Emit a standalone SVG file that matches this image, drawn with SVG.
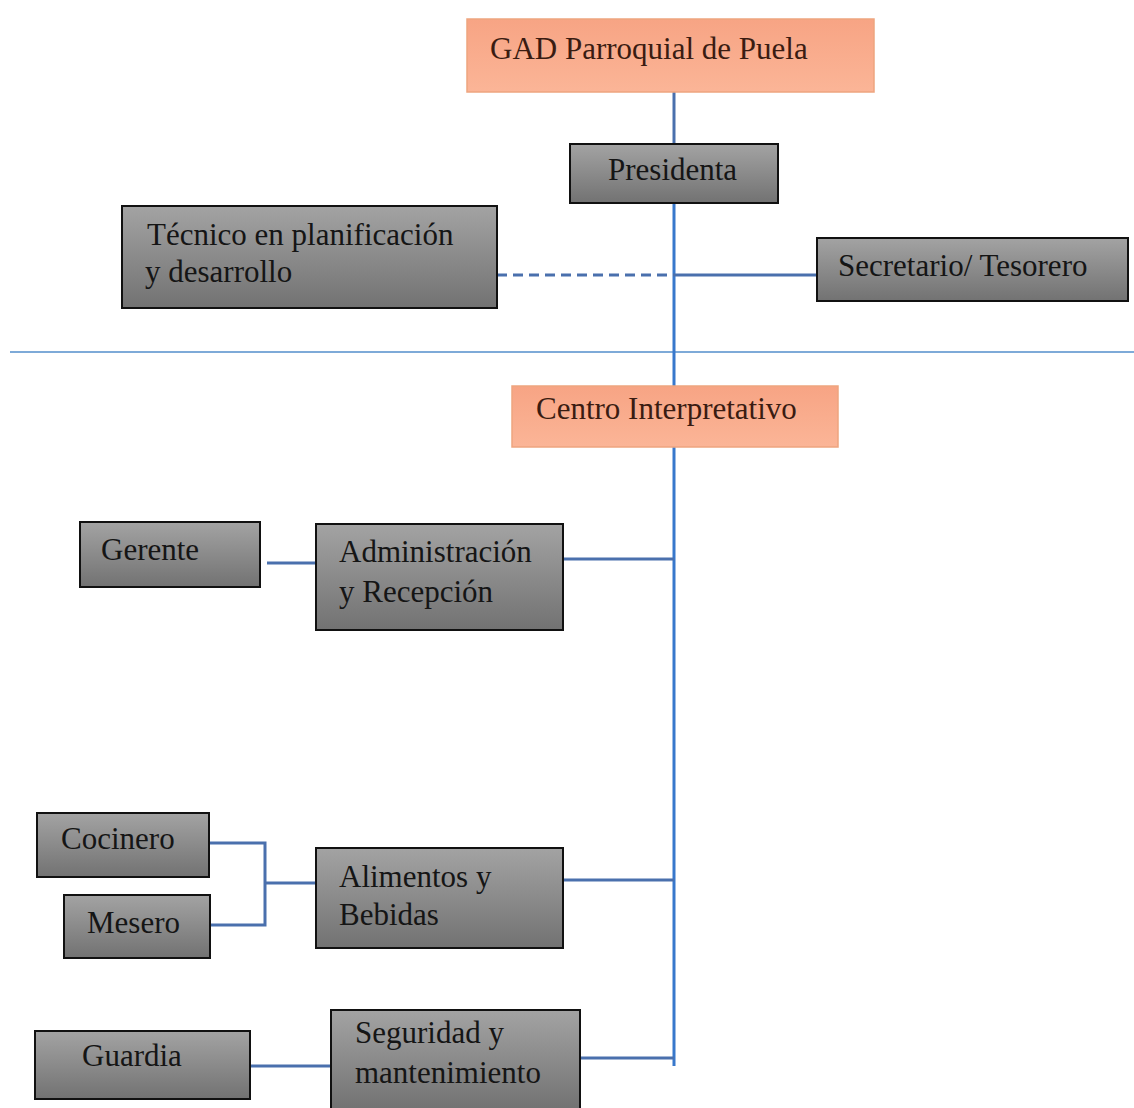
<svg xmlns="http://www.w3.org/2000/svg" width="1134" height="1108" viewBox="0 0 1134 1108">
  <defs>
    <linearGradient id="grayFill" x1="0" y1="0" x2="0" y2="1">
      <stop offset="0" stop-color="#a3a3a3"/>
      <stop offset="1" stop-color="#727272"/>
    </linearGradient>
    <linearGradient id="orangeFill" x1="0" y1="0" x2="0" y2="1">
      <stop offset="0" stop-color="#f7a484"/>
      <stop offset="1" stop-color="#fbb597"/>
    </linearGradient>
  </defs>
  <style>
    .box { fill: url(#grayFill); stroke: #111; stroke-width: 2; }
    .head { fill: url(#orangeFill); stroke: #eea57f; stroke-width: 1.5; }
    .lbl { font-size: 31px; fill: #151515; }
    .headtxt { fill: #3a1c12; }
    .link { stroke: #4a70ad; stroke-width: 3; fill: none; }
    .spine { stroke: #3878cc; stroke-width: 3; fill: none; }
    .dash { stroke: #4a70ad; stroke-width: 3; stroke-dasharray: 10 6; fill: none; }
    .divider { stroke: #7eaad8; stroke-width: 2; }
  </style>
  <rect width="1134" height="1108" fill="#ffffff"/>

  <!-- connectors -->
  <g id="connectors">
    <line class="divider" x1="10" y1="352" x2="1134" y2="352"/>
    <line class="link" x1="674" y1="92" x2="674" y2="144"/>
    <line class="spine" x1="674" y1="203" x2="674" y2="1066"/>
    <line class="dash" x1="497" y1="275" x2="674" y2="275"/>
    <line class="link" x1="674" y1="275" x2="817" y2="275"/>
    <line class="link" x1="267" y1="563" x2="316" y2="563"/>
    <line class="link" x1="563" y1="559" x2="674" y2="559"/>
    <polyline class="link" points="209,843 265,843 265,925 210,925"/>
    <line class="link" x1="265" y1="883" x2="316" y2="883"/>
    <line class="link" x1="563" y1="880" x2="674" y2="880"/>
    <line class="link" x1="250" y1="1066" x2="331" y2="1066"/>
    <line class="link" x1="580" y1="1058" x2="674" y2="1058"/>
  </g>

  <g font-family="Liberation Serif, Times New Roman, Tinos, serif">
  <g id="gad">
    <rect class="head" x="467" y="19" width="407" height="73"/>
    <text class="lbl headtxt" x="490" y="59">GAD Parroquial de Puela</text>
  </g>

  <g id="presidenta">
    <rect class="box" x="570" y="144" width="208" height="59"/>
    <text class="lbl" x="608" y="180">Presidenta</text>
  </g>

  <g id="tecnico">
    <rect class="box" x="122" y="206" width="375" height="102"/>
    <text class="lbl" x="147" y="245">Técnico en planificación</text>
    <text class="lbl" x="145" y="282">y desarrollo</text>
  </g>

  <g id="secretario">
    <rect class="box" x="817" y="238" width="311" height="63"/>
    <text class="lbl" x="838" y="276">Secretario/ Tesorero</text>
  </g>

  <g id="centro">
    <rect class="head" x="512" y="386" width="326" height="61"/>
    <text class="lbl headtxt" x="536" y="419">Centro Interpretativo</text>
  </g>

  <g id="gerente">
    <rect class="box" x="80" y="522" width="180" height="65"/>
    <text class="lbl" x="101" y="560">Gerente</text>
  </g>

  <g id="administracion">
    <rect class="box" x="316" y="524" width="247" height="106"/>
    <text class="lbl" x="339" y="562">Administración</text>
    <text class="lbl" x="339" y="602">y Recepción</text>
  </g>

  <g id="cocinero">
    <rect class="box" x="37" y="813" width="172" height="64"/>
    <text class="lbl" x="61" y="849">Cocinero</text>
  </g>

  <g id="mesero">
    <rect class="box" x="64" y="895" width="146" height="63"/>
    <text class="lbl" x="87" y="933">Mesero</text>
  </g>

  <g id="alimentos">
    <rect class="box" x="316" y="848" width="247" height="100"/>
    <text class="lbl" x="339" y="887">Alimentos y</text>
    <text class="lbl" x="339" y="925">Bebidas</text>
  </g>

  <g id="guardia">
    <rect class="box" x="35" y="1031" width="215" height="68"/>
    <text class="lbl" x="82" y="1066">Guardia</text>
  </g>

  <g id="seguridad">
    <rect class="box" x="331" y="1010" width="249" height="100"/>
    <text class="lbl" x="355" y="1043">Seguridad y</text>
    <text class="lbl" x="355" y="1083">mantenimiento</text>
  </g>
  </g>
</svg>
